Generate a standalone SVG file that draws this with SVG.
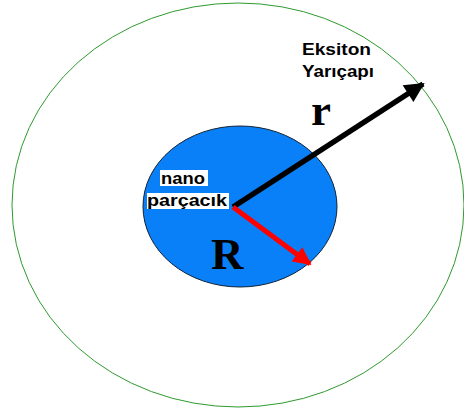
<svg xmlns="http://www.w3.org/2000/svg" width="464" height="408" viewBox="0 0 464 408">
<style>
.lbl{font-family:"Liberation Sans",Arial,sans-serif;font-weight:bold;fill:#000}
.big{font-family:"Liberation Serif","Times New Roman",serif;font-weight:bold;fill:#000}
</style>
<defs>
<marker id="ahB" viewBox="0 0 10 10" refX="9" refY="5" markerWidth="4" markerHeight="3.6" orient="auto" markerUnits="strokeWidth"><path d="M0,0 L10,5 L0,10 z" fill="#000"/></marker>
<marker id="ahR" viewBox="0 0 10 10" refX="9" refY="5" markerWidth="4" markerHeight="3.6" orient="auto" markerUnits="strokeWidth"><path d="M0,0 L10,5 L0,10 z" fill="#ff0000"/></marker>
</defs>
<rect width="464" height="408" fill="#fff"/>
<g id="outer"><ellipse cx="238" cy="205" rx="226" ry="202" fill="none" stroke="#2e9a2e" stroke-width="1"/></g>
<g id="particle"><ellipse cx="240" cy="206.5" rx="97" ry="80.5" fill="#0a80f8" stroke="#123" stroke-width="1"/></g>
<g id="connectors">
<line x1="233" y1="207" x2="423" y2="84" stroke="#000" stroke-width="5.5" marker-end="url(#ahB)"/>
<line x1="233" y1="207" x2="310" y2="264" stroke="#ff0000" stroke-width="5" marker-end="url(#ahR)"/>
</g>
<g id="nano-label">
<rect x="160" y="170" width="48" height="16" fill="#fff"/>
<rect x="147" y="193" width="82" height="16" fill="#fff"/>
<text class="lbl" x="161" y="184" font-size="17" textLength="44" lengthAdjust="spacingAndGlyphs">nano</text>
<text class="lbl" x="147" y="206" font-size="17" textLength="80" lengthAdjust="spacingAndGlyphs">parçacık</text>
</g>
<g id="exciton-label">
<text class="lbl" x="302" y="55" font-size="16" textLength="69" lengthAdjust="spacingAndGlyphs">Eksiton</text>
<text class="lbl" x="302" y="77" font-size="16" textLength="72" lengthAdjust="spacingAndGlyphs">Yarıçapı</text>
</g>
<text class="big" x="311" y="125" font-size="45">r</text>
<text class="big" x="211" y="269" font-size="45">R</text>
</svg>
